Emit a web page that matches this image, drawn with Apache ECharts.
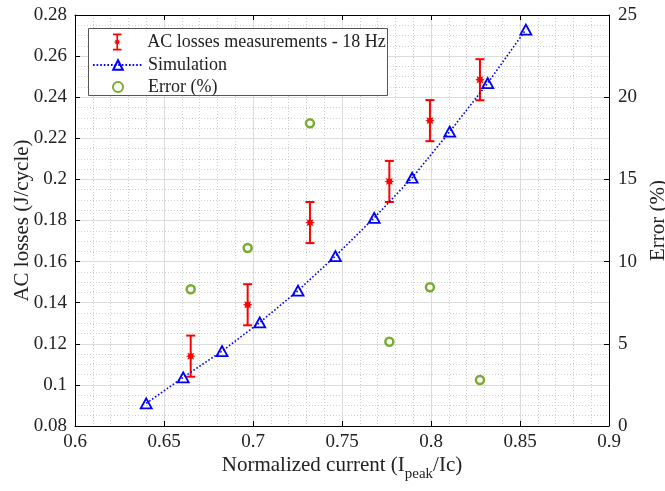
<!DOCTYPE html>
<html>
<head>
<meta charset="utf-8">
<script src="https://cdn.jsdelivr.net/npm/echarts@6/dist/echarts.min.js"></script>
<style>html,body{margin:0;padding:0;background:#fff}#c{width:665px;height:491px}</style>
</head>
<body>
<div id="c"></div>
<script>
// ---- data ----
const measX   = [0.665, 0.697, 0.732, 0.7766, 0.7994, 0.8275];
const measY   = [0.114, 0.139, 0.179, 0.199, 0.2286, 0.2485];
const measErr = [0.010, 0.010, 0.010, 0.010, 0.010, 0.010];
const simX = [0.640, 0.6608, 0.6826, 0.7038, 0.7253, 0.7463, 0.7681, 0.7894, 0.8105, 0.8319, 0.8533];
const simY = [0.091, 0.1037, 0.1164, 0.1304, 0.1459, 0.1627, 0.1813, 0.2008, 0.2232, 0.2469, 0.2729];
const errPct = [8.32, 10.83, 18.41, 5.13, 8.44, 2.80];
const xRange = [0.6, 0.9, 0.05];
const yLeftRange = [0.08, 0.28, 0.02];
const yRightRange = [0, 25, 5];
const seriesNames = ['AC losses measurements - 18 Hz', 'Simulation', 'Error (%)'];

const FONT = 'Liberation Serif';
const RED = '#ff0000', BLUE = '#0000ff', GREEN = '#77ac30';

function starPoints(cx, cy, ro, ri) {
  const pts = [];
  for (let i = 0; i < 16; i++) {
    const a = i * Math.PI / 8;
    const r = i % 2 === 0 ? ro : ri;
    pts.push([cx + r * Math.cos(a), cy + r * Math.sin(a)]);
  }
  return pts;
}
const legendErrIcon = 'path://M0,0H8V1.6H0Z M3.2,0H4.8V16H3.2Z M0,14.4H8V16H0Z ' +
  'M7.2,8L5.48,8.61L6.26,10.26L4.61,9.48L4,11.2L3.39,9.48L1.74,10.26L2.52,8.61L0.8,8L2.52,7.39L1.74,5.74L3.39,6.52L4,4.8L4.61,6.52L6.26,5.74L5.48,7.39Z';

const measData = measX.map((x, i) => [x, measY[i], measErr[i]]);
const simData = simX.map((x, i) => [x, simY[i]]);
const errData = measX.map((x, i) => [x, errPct[i]]);

const fmt = v => String(+(+v).toFixed(3));
const tickLabel = { fontFamily: FONT, fontSize: 19, color: '#222' };

const chart = echarts.init(document.getElementById('c'), null, { renderer: 'canvas' });
chart.setOption({
  animation: false,
  backgroundColor: '#fff',
  textStyle: { fontFamily: FONT },
  grid: { left: 75, right: 56, top: 15, bottom: 65, containLabel: false, outerBoundsMode: 'none' },
  xAxis: [{
    type: 'value', min: xRange[0], max: xRange[1], interval: xRange[2], position: 'bottom',
    axisLine: { show: true, onZero: false, lineStyle: { color: '#000', width: 1 } },
    axisTick: { show: true, inside: true, length: 5, lineStyle: { color: '#000' } },
    axisLabel: Object.assign({ margin: 7, formatter: fmt }, tickLabel),
    splitLine: { show: true, lineStyle: { color: '#dcdcdc', width: 1 } },
    minorTick: { show: false, splitNumber: 5 },
    minorSplitLine: { show: true, lineStyle: { color: '#cfcfcf', width: 1, type: [1, 2] } },
    name: '{a|Normalized current (I}{b|peak}{a|/Ic)}',
    nameLocation: 'middle', nameGap: 29, nameMoveOverlap: false,
    nameTextStyle: {
      rich: {
        a: { fontFamily: FONT, fontSize: 21, color: '#222', verticalAlign: 'top', lineHeight: 32 },
        b: { fontFamily: FONT, fontSize: 15, color: '#222', verticalAlign: 'top', lineHeight: 32, padding: [12, 0, 0, 0] }
      }
    }
  }, {
    type: 'value', min: xRange[0], max: xRange[1], interval: xRange[2], position: 'top',
    axisLine: { show: true, onZero: false, lineStyle: { color: '#000', width: 1 } },
    axisTick: { show: true, inside: true, length: 5, lineStyle: { color: '#000' } },
    axisLabel: { show: false },
    splitLine: { show: false }
  }],
  yAxis: [{
    type: 'value', min: yLeftRange[0], max: yLeftRange[1], interval: yLeftRange[2], position: 'left',
    axisLine: { show: true, onZero: false, lineStyle: { color: '#000', width: 1 } },
    axisTick: { show: true, inside: true, length: 5, lineStyle: { color: '#000' } },
    axisLabel: Object.assign({ margin: 8, formatter: fmt }, tickLabel),
    splitLine: { show: true, lineStyle: { color: '#dcdcdc', width: 1 } },
    minorTick: { show: false, splitNumber: 4 },
    minorSplitLine: { show: true, lineStyle: { color: '#cfcfcf', width: 1, type: [1, 2] } },
    name: 'AC losses (J/cycle)', nameLocation: 'middle', nameGap: 42, nameRotate: 90, nameMoveOverlap: false,
    nameTextStyle: { fontFamily: FONT, fontSize: 21, color: '#222' }
  }, {
    type: 'value', min: yRightRange[0], max: yRightRange[1], interval: yRightRange[2], position: 'right',
    axisLine: { show: true, onZero: false, lineStyle: { color: '#000', width: 1 } },
    axisTick: { show: true, inside: true, length: 5, lineStyle: { color: '#000' } },
    axisLabel: Object.assign({ margin: 9 }, tickLabel),
    splitLine: { show: false },
    name: 'Error (%)', nameLocation: 'middle', nameGap: 35, nameRotate: 90,
    nameTextStyle: { fontFamily: FONT, fontSize: 21, color: '#222' }
  }],
  graphic: [{
    type: 'rect', left: 88, top: 28, z: 3,
    shape: { width: 299, height: 67 },
    style: { fill: '#fff', stroke: '#555', lineWidth: 1 }
  }],
  legend: [{
    left: 113, top: 33, padding: 0, itemWidth: 50, itemHeight: 17, z: 5,
    data: [{ name: seriesNames[0], icon: legendErrIcon }],
    textStyle: { fontFamily: FONT, fontSize: 18, color: '#222' }
  }, {
    left: 92, top: 56, padding: 0, itemWidth: 50, itemHeight: 12, z: 5,
    data: [seriesNames[1]],
    textStyle: { fontFamily: FONT, fontSize: 18, color: '#222' }
  }, {
    left: 112, top: 78, padding: 0, itemWidth: 50, itemHeight: 10, z: 5,
    data: [seriesNames[2]],
    textStyle: { fontFamily: FONT, fontSize: 18, color: '#222' }
  }],
  series: [{
    name: seriesNames[0], type: 'custom', xAxisIndex: 0, yAxisIndex: 0,
    itemStyle: { color: RED },
    encode: { x: 0, y: 1 },
    data: measData,
    z: 2,
    renderItem: function (params, api) {
      const x = api.value(0), y = api.value(1), e = api.value(2);
      const c = api.coord([x, y]);
      const t = api.coord([x, y + e]);
      const b = api.coord([x, y - e]);
      const hw = 4.5;
      const ls = { stroke: RED, lineWidth: 2 };
      return {
        type: 'group', children: [
          { type: 'line', shape: { x1: c[0], y1: t[1], x2: c[0], y2: b[1] }, style: ls },
          { type: 'line', shape: { x1: c[0] - hw, y1: t[1], x2: c[0] + hw, y2: t[1] }, style: ls },
          { type: 'line', shape: { x1: c[0] - hw, y1: b[1], x2: c[0] + hw, y2: b[1] }, style: ls },
          { type: 'polygon', shape: { points: starPoints(c[0], c[1], 4.8, 2.6) }, style: { fill: RED } }
        ]
      };
    }
  }, {
    name: seriesNames[1], type: 'line', xAxisIndex: 0, yAxisIndex: 0,
    data: simData, z: 3,
    symbol: 'triangle', symbolSize: [11, 10],
    color: BLUE,
    lineStyle: { color: BLUE, width: 1.6, type: [1.6, 2] },
    itemStyle: { color: 'rgba(255,255,255,0)', borderColor: BLUE, borderWidth: 1.8 }
  }, {
    name: seriesNames[2], type: 'scatter', xAxisIndex: 0, yAxisIndex: 1,
    data: errData, z: 4,
    symbol: 'circle', symbolSize: 8,
    itemStyle: { color: '#fff', borderColor: GREEN, borderWidth: 2.5, opacity: 1 }
  }]
});
</script>
</body>
</html>
